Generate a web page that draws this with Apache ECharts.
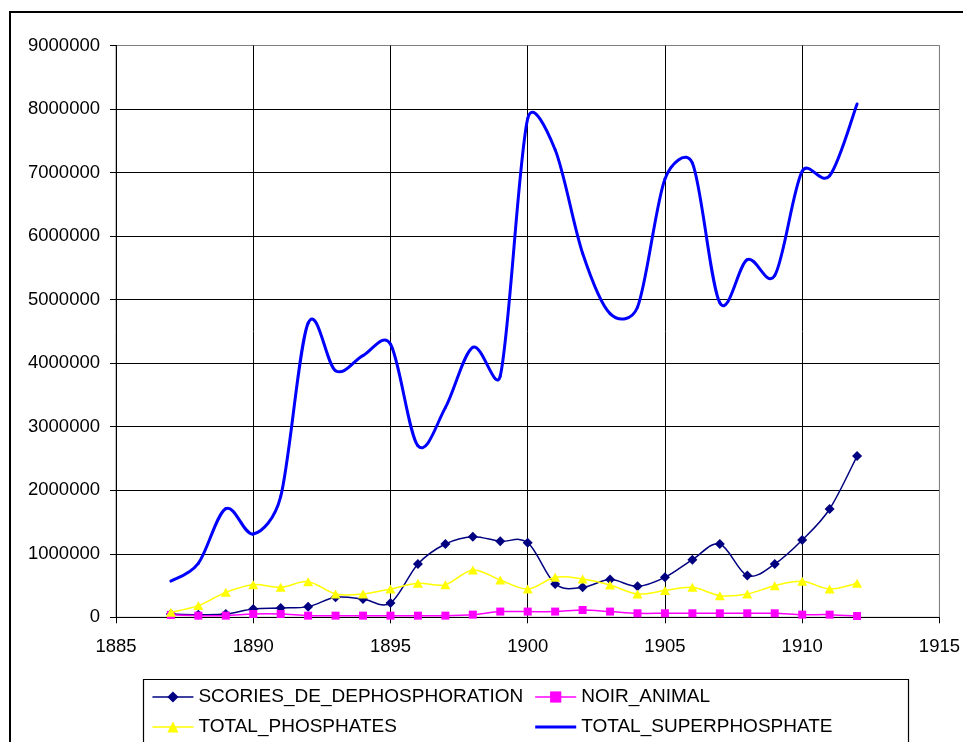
<!DOCTYPE html>
<html>
<head>
<meta charset="utf-8">
<script src="https://cdn.jsdelivr.net/npm/echarts@6/dist/echarts.min.js"></script>
<style>
html,body{margin:0;padding:0;background:#fff;}
#c{width:963px;height:742px;}
</style>
</head>
<body>
<div id="c"></div>
<script>
const years = [1887,1888,1889,1890,1891,1892,1893,1894,1895,1896,1897,1898,1899,1900,1901,1902,1903,1904,1905,1906,1907,1908,1909,1910,1911,1912];
const scories = [52000,42000,52000,131000,147000,168000,315000,288000,225000,839000,1154000,1269000,1196000,1175000,525000,472000,593000,488000,629000,907000,1154000,656000,839000,1217000,1705000,2538000];
const noirAnimal = [37000,26000,26000,52000,52000,26000,26000,26000,26000,26000,26000,42000,90000,90000,90000,115000,90000,63000,63000,63000,63000,63000,63000,42000,42000,20000];
const totalPhosphates = [79000,184000,393000,514000,472000,561000,367000,367000,446000,535000,514000,745000,587000,446000,629000,603000,509000,367000,420000,472000,341000,367000,498000,566000,446000,535000];
const totalSuperphosphate = [570000,850000,1710000,1310000,1900000,4630000,3880000,4120000,4300000,2700000,3300000,4250000,3800000,7850000,7360000,5730000,4780000,4880000,6900000,7150000,4950000,5630000,5380000,7020000,6950000,8080000];
const seriesNames = ['SCORIES_DE_DEPHOSPHORATION','NOIR_ANIMAL','TOTAL_PHOSPHATES','TOTAL_SUPERPHOSPHATE'];
const xTicks = [1885,1890,1895,1900,1905,1910,1915];
const yTicks = [0,1000000,2000000,3000000,4000000,5000000,6000000,7000000,8000000,9000000];

const pair = arr => years.map((y,i)=>[y,arr[i]]);
const FONT = '"Liberation Sans", Arial, sans-serif';

const seriesDefs = [
  {name:seriesNames[0], values:scories, color:'#000080', width:1.5, symbol:'diamond', size:10},
  {name:seriesNames[1], values:noirAnimal, color:'#FF00FF', width:1.5, symbol:'rect', size:8},
  {name:seriesNames[2], values:totalPhosphates, color:'#FFFF00', width:1.5, symbol:'triangle', size:[10,9]},
  {name:seriesNames[3], values:totalSuperphosphate, color:'#0000FF', width:3, symbol:'none', size:0}
];

// smoothed line drawn segment by segment through axis coordinates
// (spreadsheet-style bezier smoothing: tension 1/6, control arm limited to half the segment)
function smoothRenderer(values, color, width){
  return function(params, api){
    const i = params.dataIndex;
    const n = values.length;
    if (i >= n-1) return null;
    const c = k => { const j = Math.max(0,Math.min(n-1,k)); return api.coord([years[j], values[j]]); };
    const p0 = c(i-1), p1 = c(i), p2 = c(i+1), p3 = c(i+2);
    const d = (a,b)=>Math.hypot(a[0]-b[0],a[1]-b[1]);
    const d02 = d(p0,p2), d12 = d(p1,p2), d13 = d(p1,p3);
    let f1 = 1/6, f2 = 1/6;
    if (d02 > 0 && d12/2 < d02*f1) f1 = d12/(2*d02);
    if (d13 > 0 && d12/2 < d13*f2) f2 = d12/(2*d13);
    return {
      type:'bezierCurve',
      shape:{
        x1:p1[0], y1:p1[1], x2:p2[0], y2:p2[1],
        cpx1:p1[0]+(p2[0]-p0[0])*f1, cpy1:p1[1]+(p2[1]-p0[1])*f1,
        cpx2:p2[0]-(p3[0]-p1[0])*f2, cpy2:p2[1]-(p3[1]-p1[1])*f2
      },
      style:{stroke:color, lineWidth:width, fill:null, lineCap:'round', lineJoin:'round'},
      silent:true
    };
  };
}

const series = [];
seriesDefs.forEach((d,k)=>{
  series.push({
    name:d.name+' (curve)', type:'custom', data:pair(d.values), encode:{x:0,y:1},
    renderItem:smoothRenderer(d.values, d.color, d.width), z:10+k*2, clip:true
  });
  series.push({
    name:d.name, type:'line', data:pair(d.values), symbol:d.symbol, symbolSize:d.size,
    showSymbol:d.symbol!=='none',
    lineStyle:{color:d.color, width:d.width, opacity:0}, itemStyle:{color:d.color},
    z:11+k*2
  });
});

const legendItem = (d) => ({
  name:d.name,
  lineStyle:{color:d.color, width:d.width, opacity:1},
  itemStyle: d.symbol==='none' ? {color:'rgba(0,0,0,0)', opacity:0} : {color:d.color}
});

const chart = echarts.init(document.getElementById('c'), null, {renderer:'canvas'});
chart.setOption({
  animation:false,
  backgroundColor:'#fff',
  grid:{left:116,right:23.5,top:45.5,bottom:124.7,show:true,borderColor:'#808080',borderWidth:1},
  xAxis:{
    type:'value', min:xTicks[0], max:xTicks[xTicks.length-1], interval:5,
    axisLine:{show:true,onZero:false,lineStyle:{color:'#000',width:1}},
    axisTick:{show:true,inside:false,length:6,lineStyle:{color:'#000'}},
    axisLabel:{color:'#000',fontFamily:FONT,fontSize:18.5,margin:20,formatter:v=>String(v)},
    splitLine:{show:true,lineStyle:{color:['#000','#000','#000','#000','#000','#000','#808080'],width:1}}
  },
  yAxis:{
    type:'value', min:yTicks[0], max:yTicks[yTicks.length-1], interval:1000000,
    axisLine:{show:true,lineStyle:{color:'#000',width:1}},
    axisTick:{show:true,inside:false,length:6,lineStyle:{color:'#000'}},
    axisLabel:{color:'#000',fontFamily:FONT,fontSize:18.5,margin:16,formatter:v=>String(v)},
    splitLine:{show:true,lineStyle:{color:['#000','#000','#000','#000','#000','#000','#000','#000','#000','#808080'],width:1}}
  },
  legend:[
    {data:[legendItem(seriesDefs[0]),legendItem(seriesDefs[2])],orient:'vertical',left:151.7,top:687,padding:0,itemGap:10,itemWidth:41,itemHeight:14,
     textStyle:{color:'#000',fontFamily:FONT,fontSize:19,lineHeight:20}},
    {data:[legendItem(seriesDefs[1]),legendItem(seriesDefs[3])],orient:'vertical',left:533.7,top:687,padding:0,itemGap:10,itemWidth:41,itemHeight:14,
     textStyle:{color:'#000',fontFamily:FONT,fontSize:19,lineHeight:20}}
  ],
  graphic:[
    {type:'rect',shape:{x:10,y:12,width:1000,height:800},style:{fill:'none',stroke:'#000',lineWidth:2},silent:true,z:-10},
    {type:'rect',shape:{x:143.5,y:679.5,width:765,height:100},style:{fill:'none',stroke:'#000',lineWidth:1.2},silent:true,z:-10}
  ],
  series:series
});
</script>
</body>
</html>
